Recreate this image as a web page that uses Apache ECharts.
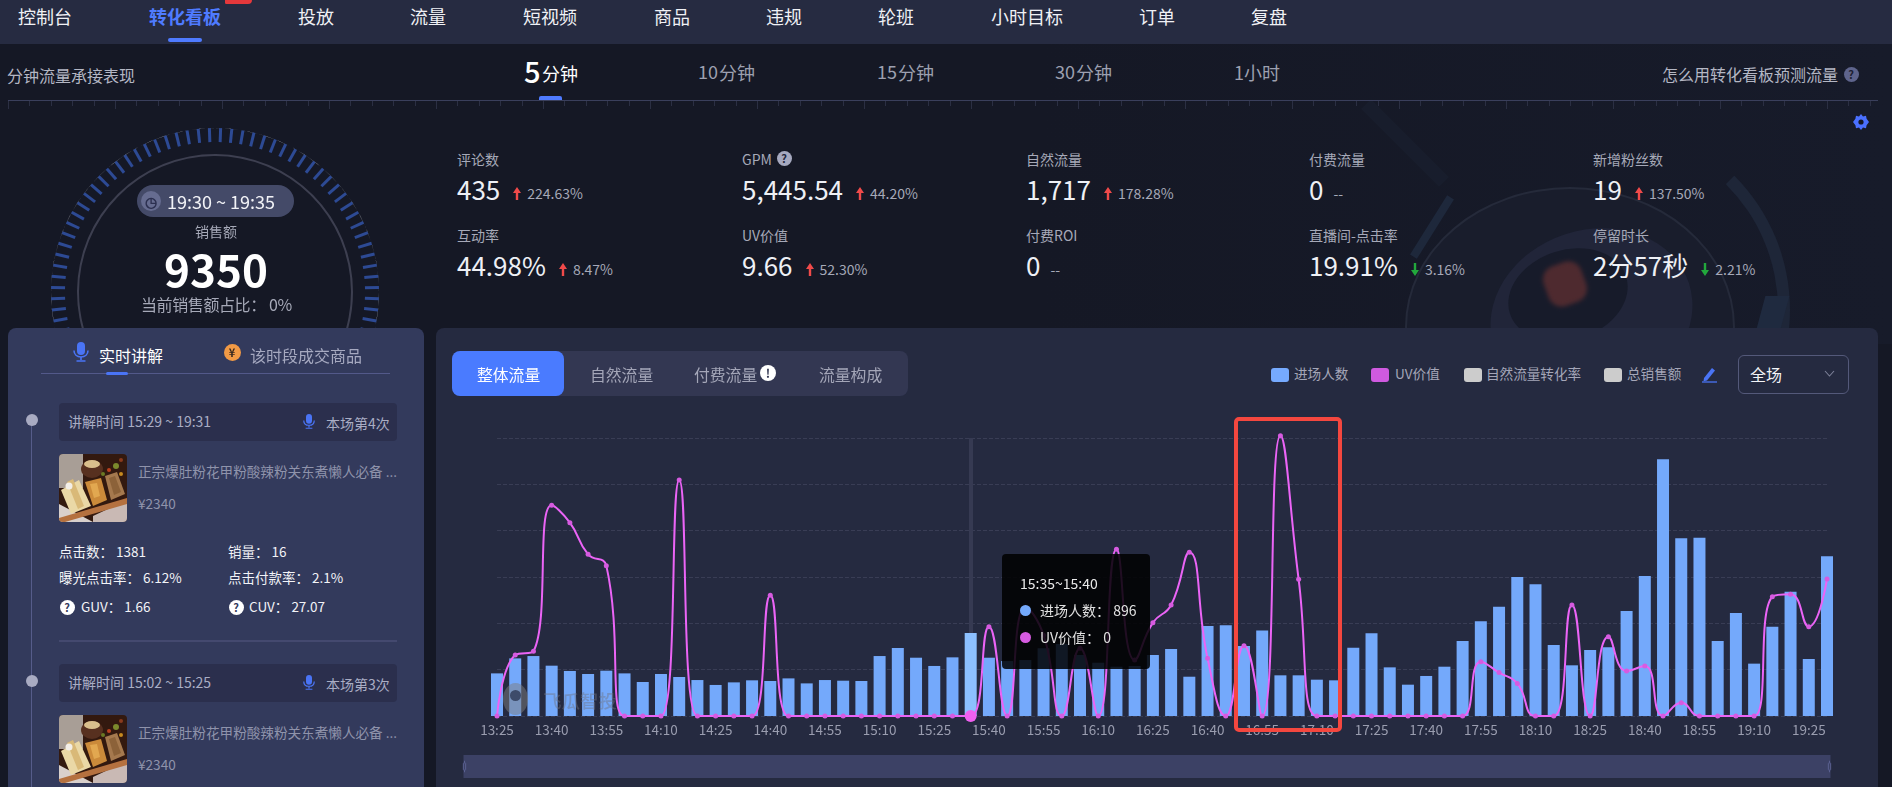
<!DOCTYPE html>
<html>
<head>
<meta charset="utf-8">
<title>转化看板</title>
<script src="https://cdn.jsdelivr.net/npm/echarts@6/dist/echarts.min.js"></script>
<style>
html,body{margin:0;padding:0;width:1892px;height:787px;overflow:hidden;background:#151825;font-family:"Noto Sans CJK SC","Noto Sans",sans-serif;}
#page{position:absolute;left:0;top:0;width:1892px;height:787px;overflow:hidden;}
#page div,#page span{position:absolute;white-space:nowrap;}
.txt{transform:translateY(-50%);line-height:1;}
#trend{left:437px;top:400px;width:1441px;height:387px;}
#dial{left:0;top:108px;width:430px;height:220px;}
</style>
</head>
<body>
<div id="page"></div>
<script>
// 顶部导航 [文字, x]
var navItems = [['控制台',18],['转化看板',149],['投放',298],['流量',410],['短视频',523],['商品',654],['违规',766],['轮班',878],['小时目标',991],['订单',1139],['复盘',1251]];
var stepItems = [['10',698],['15',877],['30',1055]];
// 指标
var kpiNames = ['评论数','GPM','自然流量','付费流量','新增粉丝数','互动率','UV价值','付费ROI','直播间-点击率','停留时长'];
var kpiValues = ['435','5,445.54','1,717','0','19','44.98%','9.66','0','19.91%','2分57秒'];
var kpiDeltas = ['224.63%','44.20%','178.28%','--','137.50%','8.47%','52.30%','--','3.16%','2.21%'];
var kpiTrends = [1,1,1,-1,1,1,1,-1,0,0]; // 1 涨 0 跌 -1 无
var kpiCols = [457,742,1026,1309,1593];

var categories = ['13:25','13:30','13:35','13:40','13:45','13:50','13:55','14:00','14:05','14:10','14:15','14:20','14:25','14:30','14:35','14:40','14:45','14:50','14:55','15:00','15:05','15:10','15:15','15:20','15:25','15:30','15:35','15:40','15:45','15:50','15:55','16:00','16:05','16:10','16:15','16:20','16:25','16:30','16:35','16:40','16:45','16:50','16:55','17:00','17:05','17:10','17:15','17:20','17:25','17:30','17:35','17:40','17:45','17:50','17:55','18:00','18:05','18:10','18:15','18:20','18:25','18:30','18:35','18:40','18:45','18:50','18:55','19:00','19:05','19:10','19:15','19:20','19:25','19:30','19:35'];
var visitors = [460,622,647,543,486,453,489,460,367,453,421,388,335,363,385,378,406,352,388,381,378,647,734,629,540,633,896,629,593,604,730,777,658,575,532,540,658,723,424,971,978,755,924,439,439,392,385,737,892,525,338,432,532,809,1022,1180,1500,1421,766,547,712,741,1133,1511,2770,1917,1924,809,1111,565,964,1342,615,1723];
var uvValues = [0,4.30,4.56,14.85,13.63,11.40,10.60,0,0,0,16.64,0,0,0,0,8.51,0,0,0,0,0,0,0,0,0,0,0,6.30,0,7.66,5.70,0,4.77,0,11.75,3.95,6.58,7.83,11.54,4.07,0,4.96,0,19.76,9.64,0,0,0,0,0,0,0,0,0,3.83,3.06,2.30,0,0,7.83,0,5.59,3.17,3.53,0,0.94,0,0,0,0,8.41,8.58,6.30,9.66];
var activeIndex = 26;
var dialTicks = 57;

var page = document.getElementById('page');

function box(x, y, w, h, css) {
    var el = document.createElement('div');
    el.style.cssText = 'left:' + x + 'px;top:' + y + 'px;width:' + w + 'px;height:' + h + 'px;' + (css || '');
    page.appendChild(el);
    return el;
}
// y 是文字的垂直中心
function put(x, y, text, size, color, css) {
    var el = document.createElement('div');
    el.className = 'txt';
    el.textContent = text;
    el.style.cssText = 'left:' + x + 'px;top:' + y + 'px;font-size:' + size + 'px;color:' + color + ';' + (css || '');
    page.appendChild(el);
    return el;
}
function badge(cx, cy, d, bg, color, text, size) {
    var el = box(cx - d / 2, cy - d / 2, d, d, 'border-radius:50%;background:' + bg + ';color:' + color + ';text-align:center;font-weight:700;font-size:' + size + 'px;line-height:' + d + 'px;');
    el.textContent = text;
    return el;
}
function svgIcon(x, y, w, h, inner) {
    var el = box(x, y, w, h);
    el.innerHTML = '<svg xmlns="http://www.w3.org/2000/svg" width="' + w + '" height="' + h + '" viewBox="0 0 ' + w + ' ' + h + '" style="display:block">' + inner + '</svg>';
    return el;
}
function mic(cx, cy, scale) {
    var s = scale || 1;
    svgIcon(cx - 8 * s, cy - 10 * s, 16 * s, 20 * s, '<g transform="scale(' + s + ')" fill="none" stroke="#4a74f5" stroke-width="1.6"><rect x="4" y="0" width="8" height="13" rx="4" fill="#4a74f5" stroke="none"/><path d="M1 8.5c0 4 3 6.5 7 6.5s7-2.5 7-6.5"/><path d="M8 15v3M3.5 19h9"/></g>');
}
function arrow(x, y, up) {
    var color = up ? '#f04a4a' : '#22a83c';
    var d = up ? 'M4 0L8 6H5.2V13H2.8V6H0Z' : 'M2.8 0H5.2V7H8L4 13L0 7H2.8Z';
    svgIcon(x, y - 6, 8, 13, '<path d="' + d + '" fill="' + color + '"/>');
}
function foodImage(x, y) {
    svgIcon(x, y, 68, 68, '<defs><clipPath id="c' + y + '"><rect width="68" height="68" rx="4"/></clipPath></defs><g clip-path="url(#c' + y + ')">' +
        '<rect width="68" height="68" fill="#33190f"/><rect width="24" height="34" fill="#a89e96"/>' +
        '<path d="M0 50L34 68H0Z" fill="#d9d0cc"/><path d="M34 62L68 46V68H34Z" fill="#c9b9b4"/>' +
        '<path d="M2 36L20 26L32 52L12 60Z" fill="#ead8a6"/><path d="M8 28L14 25L25 52L19 55Z" fill="#d9b978"/>' +
        '<path d="M26 28L42 24L48 46L34 52Z" fill="#cb8a3a"/><path d="M31 30L38 29L41 42L35 44Z" fill="#e2a850"/>' +
        '<path d="M46 22L58 18L66 40L52 46Z" fill="#a5794e"/><path d="M50 24L56 22L62 38L55 41Z" fill="#8c6239"/>' +
        '<ellipse cx="33" cy="15" rx="11" ry="9" fill="#57301f"/><ellipse cx="33" cy="10" rx="8" ry="4" fill="#d9bf8c"/>' +
        '<path d="M0 64L68 44V50L6 68H0Z" fill="#b5713f"/><circle cx="10" cy="32" r="3.500" fill="#f3efe8"/>' +
        '<circle cx="57" cy="12" r="3" fill="#7c8a2c"/><circle cx="50" cy="16" r="2" fill="#b9411f"/><circle cx="62" cy="20" r="2" fill="#c68a1f"/>' +
        '<circle cx="44" cy="20" r="2" fill="#6c7a24"/><circle cx="62" cy="6" r="2" fill="#8a3a1d"/></g>');
}

// 背景
box(0, 44, 1892, 300, 'background:linear-gradient(90deg,#151825 0%,#151825 55%,#171b2a 100%);');
box(1350, 136, 110, 14, 'background:#1a1f2f;transform:rotate(45deg);opacity:.7;');
box(1397, 223, 70, 8, 'background:#1f2a3e;transform:rotate(-58deg);opacity:.9;');
box(1405, 187, 330, 280, 'border:2px solid #252a3a;background:#191d2c;border-radius:50%;box-sizing:border-box;');
box(1410, 120, 380, 380, 'border:12px solid transparent;border-right-color:#1e2638;border-radius:50%;box-sizing:border-box;');
box(1489, 230, 205, 170, 'background:#212539;transform:rotate(-18deg);border-radius:50%;');
box(1507, 250, 122, 90, 'background:#171b2a;transform:rotate(-18deg);border-radius:50%;');
box(1545, 263, 40, 42, 'background:#4e2a2f;border-radius:14px;transform:rotate(-20deg);filter:blur(2px);');
box(1760, 296, 24, 40, 'background:#1f2a3f;transform:skewX(-15deg);');

// 导航
box(0, 0, 1892, 44, 'background:#262b41;');
for (var i = 0; i < navItems.length; i++) {
    put(navItems[i][1], 16, navItems[i][0], 18, i == 1 ? '#4f7bff' : '#f0f1f5', i == 1 ? 'font-weight:700;' : '');
}
box(168, 38, 34, 4, 'background:#4f7bff;border-radius:2px;');
box(225, 0, 27, 4, 'background:#e5383b;border-radius:0 0 6px 2px;');

// 时间档位
put(7, 75, '分钟流量承接表现', 16, '#b4b7c4');
put(524, 70, '5', 29, '#ffffff', 'font-weight:500;');
put(542, 73, '分钟', 18, '#ffffff');
for (var s = 0; s < stepItems.length; s++) {
    put(stepItems[s][1], 71, stepItems[s][0], 18, '#9da0b0');
    put(stepItems[s][1] + 21, 72, '分钟', 18, '#9da0b0');
}
put(1234, 72, '1小时', 18, '#9da0b0');
put(1662, 74, '怎么用转化看板预测流量', 16, '#b4b7c4');
badge(1851, 74, 15, '#5e648c', '#1c2032', '?', 11);
box(8, 100, 1870, 1, 'background:#3a3f5c;');
for (var tx = 8; tx < 1878; tx += 21.4) {
    box(tx, 101, 1, (Math.round((tx - 8) / 21.4) % 5 == 0) ? 8 : 5, 'background:#2b2f43;');
}
box(539, 96, 23, 4, 'background:#4f7bff;border-radius:2px 2px 0 0;');
svgIcon(1853, 114, 16, 16, '<path d="M8 0l2 2.400 3-.6.6 3L16 8l-2.400 3.200-.6 3-3-.6L8 16l-2-2.400-3 .6-.6-3L0 8l2.400-3.200.6-3 3 .6Z" fill="#4a70ff"/><circle cx="8" cy="8" r="2.600" fill="#151825"/>');

// 指标
for (var k = 0; k < kpiNames.length; k++) {
    var col = kpiCols[k % 5];
    var rowY = k < 5 ? 0 : 76;
    put(col, 159 + rowY, kpiNames[k], 14, '#a6a9b8');
    var v = put(col, 189 + rowY, kpiValues[k], 26, '#eef0f5');
    var vw = v.getBoundingClientRect().width;
    if (kpiTrends[k] >= 0) {
        arrow(col + vw + 13, 193 + rowY, kpiTrends[k] == 1);
        put(col + vw + 27, 193 + rowY, kpiDeltas[k], 14, '#a6a9b8');
    } else {
        put(col + vw + 10, 193 + rowY, kpiDeltas[k], 14, '#a6a9b8');
    }
}
badge(784, 158, 15, '#a6a9c0', '#23273c', '?', 11);

// 仪表
var dialEl = box(0, 108, 430, 220);
dialEl.id = 'dial';
box(137, 185, 157, 32, 'background:#444a68;border-radius:16px;');
badge(151, 201, 20, '#666c90', '#2c3050', '◷', 14);
put(167, 201, '19:30 ~ 19:35', 18, '#f2f3f7');
put(195, 231, '销售额', 14, '#a6a9b8');
put(164, 268, '9350', 44, '#ffffff', 'font-weight:700;');
put(141, 304, '当前销售额占比： 0%', 16, '#a6a9b8', 'letter-spacing:-.4px;');

// 左侧面板
box(8, 328, 416, 470, 'background:#333a5c;border-radius:8px;');
mic(81, 352, 1);
put(99, 355, '实时讲解', 16, '#ffffff');
badge(232, 352, 17, '#f29a45', '#3a2a20', '¥', 11);
put(250, 355, '该时段成交商品', 16, '#a6a9c0');
box(41, 373, 349, 1, 'background:#53598a;');
box(106, 372, 22, 3, 'background:#4a74f5;border-radius:2px;');
box(31, 420, 1, 370, 'background:#565c8a;');

var lessonY = [403, 664];
var lessonTime = ['讲解时间 15:29 ~ 19:31', '讲解时间 15:02 ~ 15:25'];
var lessonNo = ['本场第4次', '本场第3次'];
for (var n = 0; n < lessonY.length; n++) {
    var y0 = lessonY[n];
    badge(32, y0 + 17, 12, '#a9abc2', '#000', '', 1);
    box(59, y0, 338, 38, 'background:#2b2f4d;border-radius:4px;');
    put(68, y0 + 18, lessonTime[n], 14, '#a9adc4');
    mic(309, y0 + 18, 0.75);
    put(326, y0 + 20, lessonNo[n], 14, '#a9adc4');
    foodImage(59, y0 + 51);
    put(138, y0 + 69, '正宗爆肚粉花甲粉酸辣粉关东煮懒人必备 ...', 13.6, '#8f93ab');
    put(138, y0 + 101, '¥2340', 13.6, '#8f93ab');
}
put(59, 552, '点击数： 1381', 13.5, '#f2f3f7');
put(228, 552, '销量： 16', 13.5, '#f2f3f7');
put(59, 578, '曝光点击率： 6.12%', 13.5, '#f2f3f7');
put(228, 578, '点击付款率： 2.1%', 13.5, '#f2f3f7');
badge(67, 607, 15, '#ffffff', '#333a5c', '?', 11);
put(81, 607, 'GUV： 1.66', 13.5, '#f2f3f7');
badge(236, 607, 15, '#ffffff', '#333a5c', '?', 11);
put(249, 607, 'CUV： 27.07', 13.5, '#f2f3f7');
box(59, 640, 338, 2, 'background:#44496f;');

// 主面板
box(436, 328, 1442, 470, 'background:#252a40;border-radius:8px;');
box(452, 351, 456, 45, 'background:#333752;border-radius:8px;');
box(452, 351, 112, 45, 'background:#4a7bff;border-radius:8px;');
put(477, 375, '整体流量', 15.8, '#ffffff');
put(590, 375, '自然流量', 15.8, '#a4a6b8');
put(694, 375, '付费流量', 15.8, '#a4a6b8');
badge(768, 373, 16, '#ffffff', '#333752', '!', 12);
put(819, 375, '流量构成', 15.8, '#a4a6b8');

var legendSwatch = [[1271, '#76aaff'], [1371, '#d05ae0'], [1464, '#cccccc'], [1604, '#cccccc']];
var legendText = [[1294, '进场人数'], [1395, 'UV价值'], [1486, '自然流量转化率'], [1627, '总销售额']];
for (var g = 0; g < legendSwatch.length; g++) {
    box(legendSwatch[g][0], 368, 18, 14, 'border-radius:3px;background:' + legendSwatch[g][1] + ';');
    put(legendText[g][0], 374, legendText[g][1], 13.6, '#a4a6b8');
}
svgIcon(1701, 367, 17, 16, '<path d="M3 11L11 1l3 2.400L6 13.500l-3.500.8Z" fill="#4a74f5"/><path d="M1 15h15" stroke="#4a74f5" stroke-width="1.300"/>');
box(1738, 355, 109, 37, 'border:1px solid #54597a;border-radius:6px;');
put(1750, 374, '全场', 16, '#f2f3f7');
svgIcon(1824, 370, 11, 7, '<path d="M1 1l4.500 5 4.500-5" fill="none" stroke="#7d8098" stroke-width="1.100"/>');

// 折线柱状图
var trendEl = box(437, 400, 1441, 387);
trendEl.id = 'trend';

// 水印
box(503, 683, 25, 32, 'background:rgba(125,125,125,.5);border-radius:50%;z-index:5;');
box(510, 690, 11, 11, 'background:#3d4b6a;border-radius:50%;z-index:5;');
put(543, 700, '飞瓜智投', 18.5, 'rgba(110,115,130,.45)', 'z-index:5;font-weight:500;');

box(1234, 417, 108, 315, 'border:4px solid #f4473f;border-radius:5px;box-sizing:border-box;z-index:6;');

var dialChart = echarts.init(dialEl);
dialChart.setOption({
    animation: false,
    series: [{
        type: 'gauge',
        center: [215, 184],
        radius: 164,
        startAngle: 202,
        endAngle: -22,
        splitNumber: dialTicks,
        pointer: { show: false },
        progress: { show: false },
        axisLine: { lineStyle: { width: 0 } },
        axisTick: { show: false },
        axisLabel: { show: false },
        splitLine: { distance: 0, length: 14, lineStyle: { color: '#2d4a94', width: 3 } },
        detail: { show: false },
        title: { show: false },
        data: [{ value: 0 }]
    }, {
        type: 'gauge',
        center: [215, 184],
        radius: 138,
        startAngle: 202,
        endAngle: -22,
        pointer: { show: false },
        axisLine: { lineStyle: { width: 2, color: [[1, '#3d3f50']] } },
        axisTick: { show: false },
        axisLabel: { show: false },
        splitLine: { show: false },
        detail: { show: false },
        title: { show: false },
        data: [{ value: 0 }]
    }]
});

var myChart = echarts.init(trendEl);
myChart.setOption({
    animation: false,
    textStyle: { fontFamily: '"Noto Sans CJK SC","Noto Sans",sans-serif' },
    grid: { left: 60, right: 51, top: 38, bottom: 71 },
    tooltip: {
        trigger: 'axis',
        alwaysShowContent: true,
        transitionDuration: 0,
        position: [565, 154],
        padding: 0,
        borderWidth: 0,
        backgroundColor: 'rgba(0,0,0,.86)',
        extraCssText: 'border-radius:4px;box-shadow:none;width:148px;height:115px;',
        axisPointer: { type: 'line', z: 1, lineStyle: { color: '#363a52', width: 4, type: 'solid' } },
        formatter: function (params) {
            var idx = params[0].dataIndex;
            var html = '<div style="position:absolute;left:18px;top:21px;font-size:14px;line-height:16px;color:#e8e8e8;">' + categories[idx] + '~' + categories[idx + 1] + '</div>';
            for (var p = 0; p < params.length; p++) {
                html += '<div style="position:absolute;left:18px;top:' + (47 + p * 27) + 'px;font-size:14px;line-height:18px;color:#e0e0e0;white-space:nowrap;">' +
                    '<i style="display:inline-block;width:11px;height:11px;border-radius:50%;margin-right:9px;background:' + params[p].color + ';"></i>' +
                    params[p].seriesName + '： ' + params[p].value + '</div>';
            }
            return html;
        }
    },
    xAxis: {
        type: 'category',
        boundaryGap: false,
        data: categories.slice(0, visitors.length),
        axisLine: { show: false },
        axisTick: { show: false },
        axisLabel: { interval: 2, color: '#9a9daf', fontSize: 13.5, margin: 7 }
    },
    yAxis: [{
        type: 'value',
        min: 0,
        max: 3000,
        interval: 500,
        axisLine: { show: false },
        axisTick: { show: false },
        axisLabel: { show: false },
        splitLine: { lineStyle: { color: '#393d55', type: 'dashed' } }
    }, {
        type: 'value',
        min: 0,
        max: 19.6,
        axisLine: { show: false },
        axisTick: { show: false },
        axisLabel: { show: false },
        splitLine: { show: false }
    }],
    dataZoom: [{
        type: 'slider',
        xAxisIndex: 0,
        start: 0,
        end: 100,
        left: 24,
        right: 50,
        top: 355,
        height: 23,
        showDetail: false,
        brushSelect: false,
        moveHandleSize: 0,
        backgroundColor: 'transparent',
        borderColor: 'transparent',
        fillerColor: '#3c4165',
        handleSize: '50%',
        handleStyle: { color: '#3c4165', borderColor: '#5a6090' },
        dataBackground: { lineStyle: { color: '#4c5282', width: 1 }, areaStyle: { opacity: 0 } },
        selectedDataBackground: { lineStyle: { color: '#4c5282', width: 1 }, areaStyle: { opacity: 0 } }
    }],
    series: [{
        name: '进场人数',
        type: 'bar',
        barWidth: 12,
        yAxisIndex: 0,
        data: visitors,
        itemStyle: { color: '#74a9fb' },
        emphasis: { itemStyle: { color: '#8cc0ff' } }
    }, {
        name: 'UV价值',
        type: 'line',
        smooth: true,
        yAxisIndex: 1,
        clip: false,
        showSymbol: true,
        showAllSymbol: true,
        symbol: 'circle',
        symbolSize: 5,
        data: uvValues,
        itemStyle: { color: '#d65be0' },
        lineStyle: { color: '#d65be0', width: 2 },
        emphasis: { scale: 2.4, itemStyle: { color: '#f060f0', borderColor: '#f060f0', borderWidth: 0 } }
    }]
});
myChart.dispatchAction({ type: 'showTip', seriesIndex: 0, dataIndex: activeIndex });
</script>
</body>
</html>
